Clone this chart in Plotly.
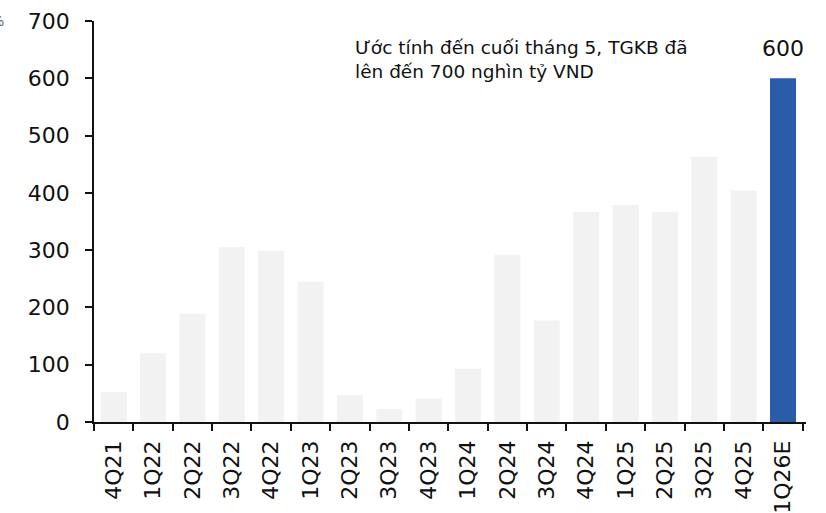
import plotly.graph_objects as go

FONT = "DejaVu Sans"

quarters = ["4Q21", "1Q22", "2Q22", "3Q22", "4Q22", "1Q23", "2Q23", "3Q23", "4Q23",
            "1Q24", "2Q24", "3Q24", "4Q24", "1Q25", "2Q25", "3Q25", "4Q25", "1Q26E"]
values = [52, 120, 189, 305, 299, 245, 47, 23, 41,
          93, 292, 177, 367, 379, 367, 463, 404, 600]
y_ticks = [0, 100, 200, 300, 400, 500, 600, 700]

GREY = "#f2f2f2"
BLUE = "#2b5ca8"
colors = [GREY] * (len(values) - 1) + [BLUE]

fig = go.Figure()
fig.add_trace(go.Bar(
    x=quarters, y=values,
    marker=dict(color=colors, line=dict(width=0)),
    cliponaxis=False,
))

fig.update_xaxes(
    type="category", tickangle=-90, tickson="boundaries",
    ticks="outside", ticklen=7, tickwidth=1.5, tickcolor="#111111",
    showline=True, linecolor="#111111", linewidth=1.5,
    tickfont=dict(size=22, color="#111111", family=FONT),
    ticklabelstandoff=8,
    showgrid=False,
)
fig.update_yaxes(
    range=[0, 700], tickvals=y_ticks,
    ticks="outside", ticklen=7, tickwidth=1.5, tickcolor="#111111",
    showline=True, linecolor="#111111", linewidth=1.5,
    tickfont=dict(size=22, color="#111111", family=FONT),
    ticklabelstandoff=11, ticklabeloverflow="allow",
    showgrid=False, zeroline=False,
)

# value label above the estimate bar
fig.add_annotation(
    x=quarters[-1], y=values[-1], xanchor="center", yanchor="bottom", yshift=15,
    text=str(values[-1]), showarrow=False,
    font=dict(size=22, color="#111111", family=FONT),
)
fig.add_annotation(
    xref="paper", yref="paper", x=0.364, y=0.964, xanchor="left", yanchor="top",
    text="Ước tính đến cuối tháng 5, TGKB đã<br>lên đến 700 nghìn tỷ VND",
    showarrow=False, align="left",
    font=dict(size=18.5, color="#111111", family=FONT),
)
fig.add_annotation(
    xref="paper", yref="paper", x=-0.123, y=1.0, xanchor="right", yanchor="middle",
    text="%", showarrow=False, font=dict(size=14, color="#666666", family=FONT),
)

fig.update_layout(
    width=826, height=513,
    margin=dict(l=94, r=20, t=21, b=91, autoexpand=False),
    plot_bgcolor="white", paper_bgcolor="white",
    bargap=0.34, showlegend=False,
    font=dict(family=FONT),
)

# drop the default page margin so the figure fills the window
fig.write_html("out.html", config={"displayModeBar": False},
               post_script="document.body.style.margin='0';")
